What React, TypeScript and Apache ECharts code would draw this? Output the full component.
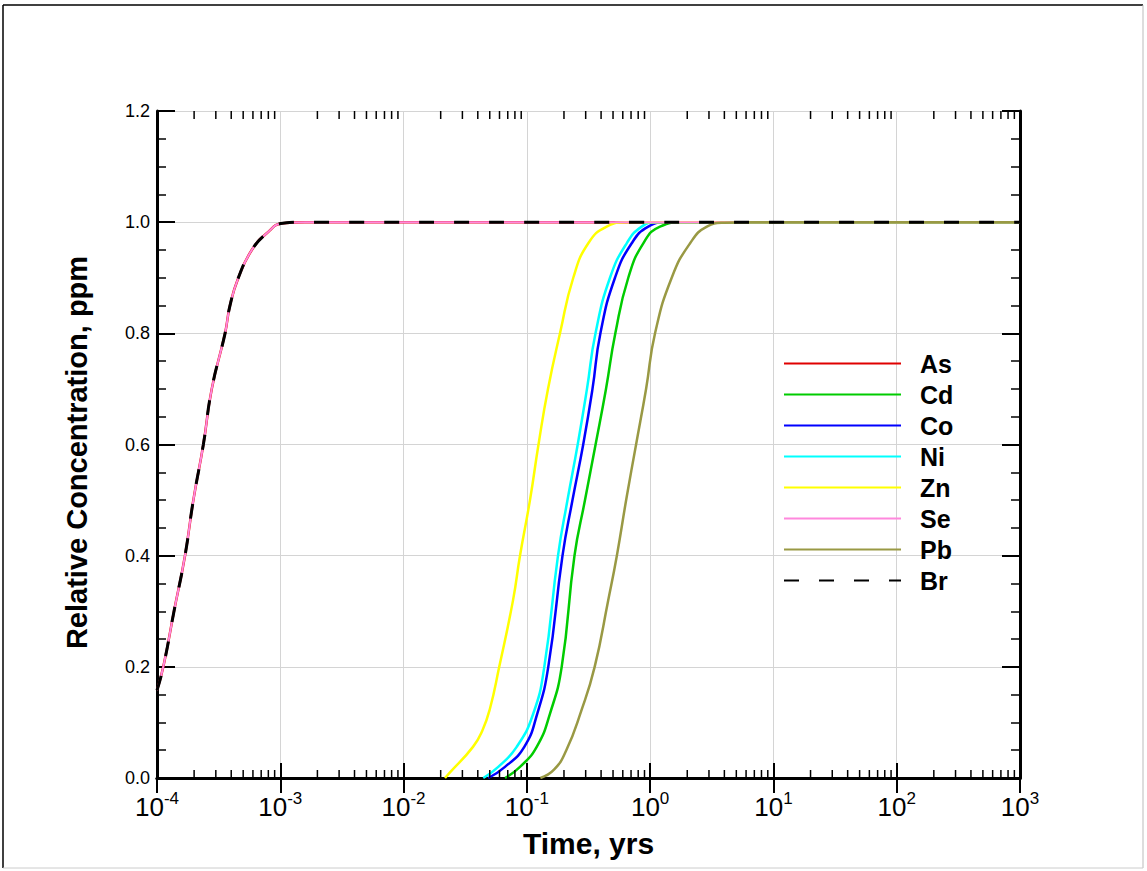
import React, { useEffect, useRef } from "react";
import * as echarts from "echarts";

const FONT = "'Liberation Sans', Arial, Helvetica, sans-serif";

const seriesNames = ["As", "Cd", "Co", "Ni", "Zn", "Se", "Pb", "Br"];
const seriesColors = ["#e00000", "#00cc00", "#0000ff", "#00ffff", "#ffff00", "#ff88dd", "#999944", "#000000"];

// Time (yrs) and relative concentration
const brTime = [1.0e-4, 1.125e-4, 1.374e-4, 1.687e-4, 1.972e-4, 2.377e-4, 2.78e-4, 3.565e-4, 3.908e-4, 4.571e-4, 5.875e-4, 7.762e-4, 1.047e-3, 1.585e-3, 1000];
const brConc = [0.158, 0.2, 0.3, 0.4, 0.5, 0.6, 0.7, 0.8, 0.85, 0.9, 0.95, 0.98, 0.998, 1.0, 1.0];
const asTime = brTime;
const asConc = brConc;
const seTime = brTime;
const seConc = brConc;

const znTime = [0.02168, 0.02379, 0.03656, 0.0435, 0.05023, 0.0597, 0.07727, 0.08796, 0.106, 0.1243, 0.1484, 0.1857, 0.238, 0.315, 0.4442, 0.6452, 1000];
const znConc = [0.0, 0.01, 0.056, 0.085, 0.125, 0.2, 0.32, 0.4, 0.5, 0.6, 0.7, 0.8, 0.9, 0.962, 0.992, 1.0, 1.0];

const niTime = [0.04432, 0.05864, 0.08272, 0.1128, 0.1385, 0.1789, 0.2136, 0.2585, 0.3074, 0.3605, 0.4724, 0.6452, 0.8543, 1.13, 1000];
const niConc = [0.0, 0.02, 0.056, 0.116, 0.2, 0.4, 0.5, 0.6, 0.7, 0.8, 0.9, 0.962, 0.992, 1.0, 1.0];

const coTime = [0.04868, 0.06649, 0.09535, 0.1215, 0.1492, 0.1946, 0.2345, 0.2865, 0.3407, 0.395, 0.5187, 0.7086, 0.966, 1.362, 1000];
const coConc = [0.0, 0.02, 0.056, 0.116, 0.2, 0.4, 0.5, 0.6, 0.7, 0.8, 0.9, 0.962, 0.992, 1.0, 1.0];

const cdTime = [0.06649, 0.08796, 0.1202, 0.1541, 0.1917, 0.2434, 0.2962, 0.3610, 0.4384, 0.5220, 0.6648, 0.8801, 1.202, 1.858, 1000];
const cdConc = [0.0, 0.02, 0.056, 0.116, 0.2, 0.4, 0.5, 0.6, 0.7, 0.8, 0.9, 0.962, 0.992, 1.0, 1.0];

const pbTime = [0.1288, 0.166, 0.2089, 0.2754, 0.3548, 0.4571, 0.537, 0.6457, 0.7691, 0.9268, 1.096, 1.496, 2.109, 2.884, 3.981, 6.31, 1000];
const pbConc = [0.0, 0.015, 0.05, 0.12, 0.2, 0.32, 0.4, 0.506, 0.6, 0.7, 0.8, 0.9, 0.962, 0.992, 0.999, 1.0, 1.0];

const seriesTimes = [asTime, cdTime, coTime, niTime, znTime, seTime, pbTime, brTime];
const seriesConcs = [asConc, cdConc, coConc, niConc, znConc, seConc, pbConc, brConc];

const xMin = 1e-4;
const xMax = 1e3;
const yMin = 0;
const yMax = 1.2;
const yInterval = 0.2;
const minorMultipliers = [2, 3, 4, 5, 6, 7, 8, 9];
const decadeStarts = [1e-4, 1e-3, 1e-2, 1e-1, 1e0, 1e1, 1e2];

export default function App() {
  const ref = useRef<HTMLDivElement>(null);

  useEffect(() => {
    document.body.style.margin = "0";
    if (!ref.current) return;
    const chart = echarts.init(ref.current, null, { renderer: "svg" });

    const minorTicks: number[][] = [];
    decadeStarts.forEach((d) => minorMultipliers.forEach((m) => minorTicks.push([d * m, 0])));

    const lineSeries = seriesNames.map((name, i) => ({
      name,
      type: "line",
      xAxisIndex: 0,
      yAxisIndex: 0,
      data: seriesTimes[i].map((t, j) => [t, seriesConcs[i][j]]),
      showSymbol: false,
      symbol: "none",
      smooth: 0.5,
      z: 2 + i * 0.01,
      lineStyle:
        name === "Br"
          ? { color: seriesColors[i], width: 3, type: [15, 20] }
          : { color: seriesColors[i], width: name === "Se" ? 2 : 2.5 },
      itemStyle: { color: seriesColors[i] },
    }));

    const axisLabelX = {
      show: true,
      margin: 12,
      formatter: (v: number) => {
        const e = Math.round(Math.log10(v));
        return `{a|10}{b|${e}}`;
      },
      rich: {
        a: { fontSize: 26, fontFamily: FONT, color: "#000", lineHeight: 30, verticalAlign: "bottom" },
        b: { fontSize: 17, fontFamily: FONT, color: "#000", lineHeight: 17, verticalAlign: "top" },
      },
    };

    const option = {
      animation: false,
      backgroundColor: "#fff",
      grid: { left: 157, right: 127, top: 111, bottom: 93, containLabel: false },
      xAxis: [
        {
          type: "log",
          logBase: 10,
          min: xMin,
          max: xMax,
          interval: 1,
          position: "bottom",
          name: "Time, yrs",
          nameLocation: "middle",
          nameGap: 50,
          nameTextStyle: { fontSize: 30, fontWeight: "bold", fontFamily: FONT, color: "#000" },
          axisLine: { show: true, lineStyle: { color: "#000", width: 3 } },
          axisTick: { show: true, inside: true, length: 15, lineStyle: { color: "#000", width: 2 } },
          minorTick: { show: false },
          splitLine: { show: true, lineStyle: { color: "#d4d4d4", width: 1 } },
          axisLabel: axisLabelX,
        },
        {
          type: "log",
          logBase: 10,
          min: xMin,
          max: xMax,
          interval: 1,
          position: "top",
          axisLine: { show: true, lineStyle: { color: "#000", width: 3 } },
          axisTick: { show: true, inside: true, length: 15, lineStyle: { color: "#000", width: 2 } },
          splitLine: { show: false },
          axisLabel: { show: false },
        },
      ],
      yAxis: [
        {
          type: "value",
          min: yMin,
          max: yMax,
          interval: yInterval,
          position: "left",
          name: "Relative Concentration, ppm",
          nameLocation: "middle",
          nameGap: 66,
          nameRotate: 90,
          nameTextStyle: { fontSize: 29, fontWeight: "bold", fontFamily: FONT, color: "#000", padding: [0, 16, 0, 0] },
          axisLine: { show: true, lineStyle: { color: "#000", width: 3 } },
          axisTick: { show: true, inside: true, length: 18, lineStyle: { color: "#000", width: 2 } },
          minorTick: { show: true, splitNumber: 4, length: 9, lineStyle: { color: "#000", width: 1.5 } },
          splitLine: { show: true, lineStyle: { color: "#d4d4d4", width: 1 } },
          axisLabel: {
            margin: 7,
            fontSize: 18,
            fontFamily: FONT,
            color: "#000",
            formatter: (v: number) => v.toFixed(1),
          },
        },
        {
          type: "value",
          min: yMin,
          max: yMax,
          interval: yInterval,
          position: "right",
          axisLine: { show: true, lineStyle: { color: "#000", width: 3 } },
          axisTick: { show: true, inside: true, length: 18, lineStyle: { color: "#000", width: 2 } },
          minorTick: { show: true, splitNumber: 4, length: 9, lineStyle: { color: "#000", width: 1.5 } },
          splitLine: { show: false },
          axisLabel: { show: false },
        },
      ],
      legend: {
        data: seriesNames,
        orient: "vertical",
        left: 783,
        top: 351,
        padding: 0,
        itemWidth: 117,
        itemHeight: 12,
        itemGap: 6,
        itemStyle: { opacity: 0 },
        textStyle: {
          fontSize: 25,
          fontWeight: "bold",
          fontFamily: FONT,
          color: "#000",
          padding: [0, 0, 0, 14],
        },
        selectedMode: false,
      },
      graphic: [
        { type: "line", silent: true, shape: { x1: 3, y1: 5, x2: 1143, y2: 5 }, style: { stroke: "#000", lineWidth: 1.5 } },
        { type: "line", silent: true, shape: { x1: 3, y1: 5, x2: 3, y2: 868 }, style: { stroke: "#000", lineWidth: 1.5 } },
        { type: "line", silent: true, shape: { x1: 1143, y1: 5, x2: 1143, y2: 868 }, style: { stroke: "#bbb", lineWidth: 1 } },
        { type: "line", silent: true, shape: { x1: 3, y1: 868, x2: 1143, y2: 868 }, style: { stroke: "#ccc", lineWidth: 1 } },
      ],
      series: [
        ...lineSeries,
        {
          name: "minorTicks",
          type: "custom",
          xAxisIndex: 0,
          yAxisIndex: 0,
          silent: true,
          z: 10,
          data: minorTicks,
          renderItem: (params: any, api: any) => {
            const v = api.value(0);
            const b = api.coord([v, yMin]);
            const t = api.coord([v, yMax]);
            return {
              type: "group",
              children: [
                { type: "line", shape: { x1: b[0], y1: b[1], x2: b[0], y2: b[1] - 8 }, style: { stroke: "#000", lineWidth: 1.5 } },
                { type: "line", shape: { x1: t[0], y1: t[1], x2: t[0], y2: t[1] + 8 }, style: { stroke: "#000", lineWidth: 1.5 } },
              ],
            };
          },
        },
      ],
    };

    chart.setOption(option as any);
    return () => chart.dispose();
  }, []);

  return <div ref={ref} style={{ position: "fixed", left: 0, top: 0, width: 1147, height: 871 }} />;
}
